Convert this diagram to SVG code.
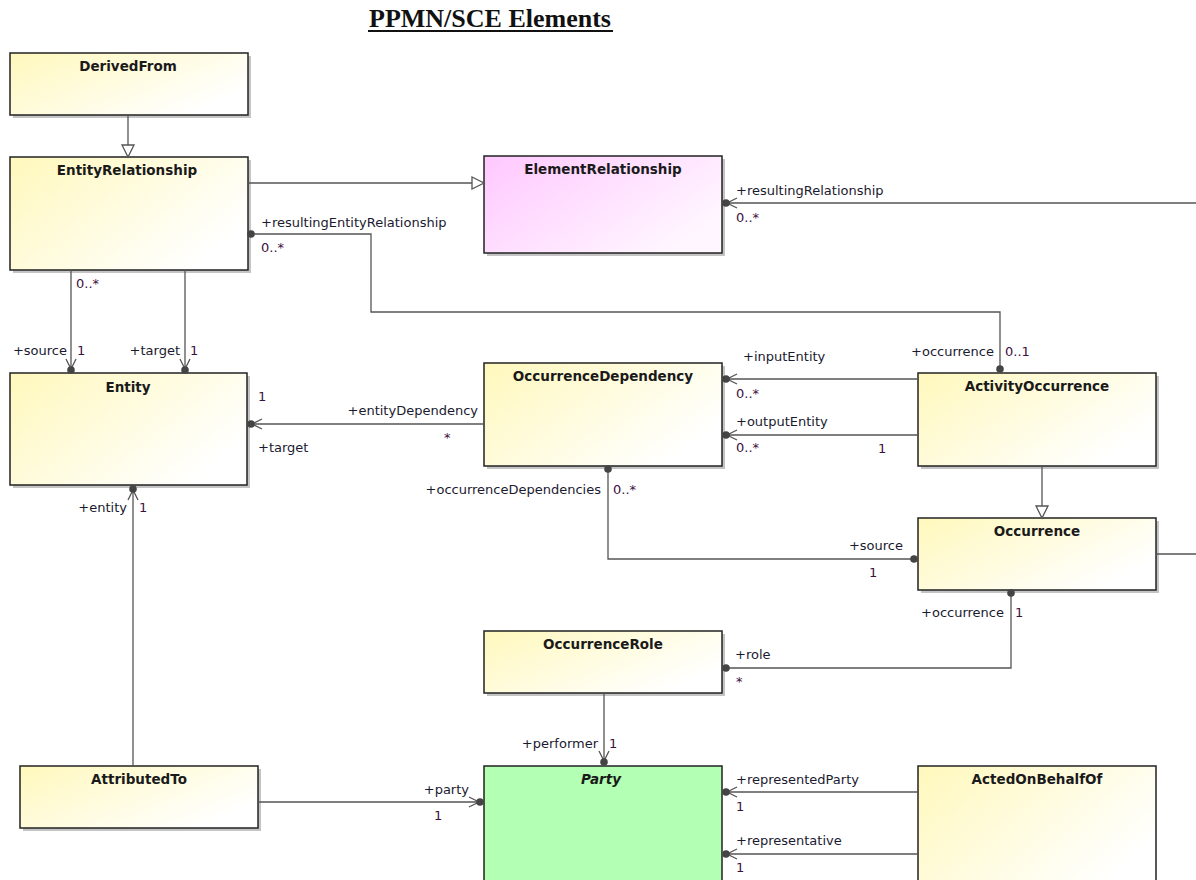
<svg xmlns="http://www.w3.org/2000/svg" width="1196" height="880" viewBox="0 0 1196 880">
  <defs>
    <style>
      .box { stroke: #222; stroke-width: 1.5; }
      .yel { fill: url(#gYellow); }
      .pnk { fill: url(#gPink); }
      .grn { fill: #b3ffb3; }
      .shadow { fill: #c4c4c4; }
      .name { font-family: "DejaVu Sans", Verdana, sans-serif; font-weight: bold; font-size: 13.5px; fill: #1a1a1a; text-anchor: middle; }
      .role { font-family: "DejaVu Sans", Verdana, sans-serif; font-size: 13px; fill: #1a1a30; }
      .mult { font-family: "DejaVu Sans", Verdana, sans-serif; font-size: 13px; fill: #3c1040; }
      .end { text-anchor: end; }
      .conn { fill: none; stroke: #555; stroke-width: 1.3; }
      .ball { fill: #444; }
      .title { font-family: "Liberation Serif", "Times New Roman", serif; font-weight: bold; font-size: 26px; fill: #111; text-anchor: middle; }
    </style>
    <linearGradient id="gYellow" x1="0" y1="0" x2="1" y2="0.6">
      <stop offset="0" stop-color="#fff8bc"/>
      <stop offset="1" stop-color="#ffffff"/>
    </linearGradient>
    <linearGradient id="gPink" x1="0" y1="0" x2="1" y2="0.6">
      <stop offset="0" stop-color="#ffc8ff"/>
      <stop offset="1" stop-color="#fff6ff"/>
    </linearGradient>
    <!-- navigable association end: ball plus open arrowhead -->
    <marker id="nav" markerUnits="userSpaceOnUse" markerWidth="20" markerHeight="16" viewBox="-14 -8 20 16" refX="0" refY="0" orient="auto" overflow="visible">
      <path d="M-11,-5 L-1,0 L-11,5" fill="none" stroke="#555" stroke-width="1.3"/>
      <circle r="3.8" fill="#444"/>
    </marker>
    <!-- owned association end: ball only -->
    <marker id="dot" markerUnits="userSpaceOnUse" markerWidth="10" markerHeight="10" viewBox="-5 -5 10 10" refX="0" refY="0" orient="auto" overflow="visible">
      <circle r="3.8" fill="#444"/>
    </marker>
    <!-- generalization: hollow triangle -->
    <marker id="gen" markerUnits="userSpaceOnUse" markerWidth="16" markerHeight="16" viewBox="-14 -8 16 16" refX="0" refY="0" orient="auto" overflow="visible">
      <path d="M-12,-6 L0,0 L-12,6 Z" fill="#fff" stroke="#555" stroke-width="1.3"/>
    </marker>
  </defs>

  <rect width="1196" height="880" fill="#fff"/>

  <!-- heading -->
  <text class="title" x="490" y="27">PPMN/SCE Elements</text>
  <rect x="368" y="30" width="245" height="2" fill="#111"/>

  <!-- classes -->
  <g id="DerivedFrom">
    <rect class="shadow" x="13" y="56" width="238" height="62"/>
    <rect class="box yel" x="10" y="53" width="238" height="62"/>
    <text class="name" x="128" y="71">DerivedFrom</text>
  </g>
  <g id="EntityRelationship">
    <rect class="shadow" x="13" y="160" width="238" height="113"/>
    <rect class="box yel" x="10" y="157" width="238" height="113"/>
    <text class="name" x="127" y="175">EntityRelationship</text>
  </g>
  <g id="ElementRelationship">
    <rect class="shadow" x="487" y="159" width="238" height="97"/>
    <rect class="box pnk" x="484" y="156" width="238" height="97"/>
    <text class="name" x="603" y="174">ElementRelationship</text>
  </g>
  <g id="Entity">
    <rect class="shadow" x="13" y="376" width="237" height="112"/>
    <rect class="box yel" x="10" y="373" width="237" height="112"/>
    <text class="name" x="128" y="392">Entity</text>
  </g>
  <g id="OccurrenceDependency">
    <rect class="shadow" x="487" y="366" width="238" height="103"/>
    <rect class="box yel" x="484" y="363" width="238" height="103"/>
    <text class="name" x="603" y="381">OccurrenceDependency</text>
  </g>
  <g id="ActivityOccurrence">
    <rect class="shadow" x="921" y="376" width="238" height="93"/>
    <rect class="box yel" x="918" y="373" width="238" height="93"/>
    <text class="name" x="1037" y="391">ActivityOccurrence</text>
  </g>
  <g id="Occurrence">
    <rect class="shadow" x="921" y="521" width="238" height="72"/>
    <rect class="box yel" x="918" y="518" width="238" height="72"/>
    <text class="name" x="1037" y="536">Occurrence</text>
  </g>
  <g id="OccurrenceRole">
    <rect class="shadow" x="487" y="634" width="238" height="62"/>
    <rect class="box yel" x="484" y="631" width="238" height="62"/>
    <text class="name" x="603" y="649">OccurrenceRole</text>
  </g>
  <g id="AttributedTo">
    <rect class="shadow" x="23" y="769" width="238" height="62"/>
    <rect class="box yel" x="20" y="766" width="238" height="62"/>
    <text class="name" x="139" y="784">AttributedTo</text>
  </g>
  <g id="Party">
    <rect class="box grn" x="484" y="766" width="238" height="125"/>
    <text class="name" x="601" y="784" font-style="italic">Party</text>
  </g>
  <g id="ActedOnBehalfOf">
    <rect class="box yel" x="918" y="766" width="238" height="125"/>
    <text class="name" x="1037" y="784">ActedOnBehalfOf</text>
  </g>

  <!-- connectors, drawn over the class borders so the end balls sit on top -->
  <g id="connectors">
    <path class="conn" d="M128,115 V157" marker-end="url(#gen)"/>
    <path class="conn" d="M248,183 H484" marker-end="url(#gen)"/>
    <path class="conn" d="M251,234 H371 V312 H1000 V369" marker-end="url(#dot)"/>
    <circle class="ball" cx="251" cy="234" r="3.8"/>
    <path class="conn" d="M1196,203 H726" marker-end="url(#nav)"/>
    <path class="conn" d="M71,270 V370" marker-end="url(#nav)"/>
    <path class="conn" d="M185,270 V370" marker-end="url(#nav)"/>
    <path class="conn" d="M484,424 H251" marker-end="url(#nav)"/>
    <path class="conn" d="M918,379 H726" marker-end="url(#nav)"/>
    <path class="conn" d="M918,435 H726" marker-end="url(#nav)"/>
    <path class="conn" d="M1042,466 V518" marker-end="url(#gen)"/>
    <path class="conn" d="M608,469 V559 H914" marker-end="url(#dot)"/>
    <circle class="ball" cx="608" cy="469" r="3.8"/>
    <path class="conn" d="M1156,554 H1196"/>
    <path class="conn" d="M1011,593 V668 H726" marker-end="url(#dot)"/>
    <circle class="ball" cx="1011" cy="593" r="3.8"/>
    <path class="conn" d="M604,693 V762" marker-end="url(#nav)"/>
    <path class="conn" d="M133,766 V489" marker-end="url(#nav)"/>
    <path class="conn" d="M258,802 H480" marker-end="url(#nav)"/>
    <path class="conn" d="M918,792 H726" marker-end="url(#nav)"/>
    <path class="conn" d="M918,854 H726" marker-end="url(#nav)"/>
  </g>

  <!-- association end labels -->
  <g id="labels">
    <text class="role" x="261" y="227">+resultingEntityRelationship</text>
    <text class="mult" x="261" y="252">0..*</text>
    <text class="role" x="736" y="195">+resultingRelationship</text>
    <text class="mult" x="736" y="222">0..*</text>
    <text class="mult" x="76" y="288">0..*</text>
    <text class="role end" x="67" y="355">+source</text>
    <text class="mult" x="77" y="355">1</text>
    <text class="role end" x="180" y="355">+target</text>
    <text class="mult" x="190" y="355">1</text>
    <text class="mult" x="258" y="401">1</text>
    <text class="role end" x="478" y="415">+entityDependency</text>
    <text class="mult" x="444" y="442">*</text>
    <text class="role" x="258" y="452">+target</text>
    <text class="role end" x="127" y="512">+entity</text>
    <text class="mult" x="139" y="512">1</text>
    <text class="role" x="743" y="361">+inputEntity</text>
    <text class="mult" x="736" y="398">0..*</text>
    <text class="role" x="736" y="426">+outputEntity</text>
    <text class="mult" x="736" y="452">0..*</text>
    <text class="mult" x="878" y="453">1</text>
    <text class="role end" x="994" y="356">+occurrence</text>
    <text class="mult" x="1005" y="356">0..1</text>
    <text class="role end" x="601" y="494">+occurrenceDependencies</text>
    <text class="mult" x="613" y="494">0..*</text>
    <text class="role end" x="903" y="550">+source</text>
    <text class="mult" x="869" y="577">1</text>
    <text class="role end" x="1004" y="617">+occurrence</text>
    <text class="mult" x="1015" y="617">1</text>
    <text class="role" x="735" y="659">+role</text>
    <text class="mult" x="736" y="686">*</text>
    <text class="role end" x="598" y="748">+performer</text>
    <text class="mult" x="609" y="748">1</text>
    <text class="role end" x="469" y="794">+party</text>
    <text class="mult" x="434" y="820">1</text>
    <text class="role" x="736" y="784">+representedParty</text>
    <text class="mult" x="736" y="811">1</text>
    <text class="role" x="736" y="845">+representative</text>
    <text class="mult" x="736" y="872">1</text>
  </g>
</svg>
